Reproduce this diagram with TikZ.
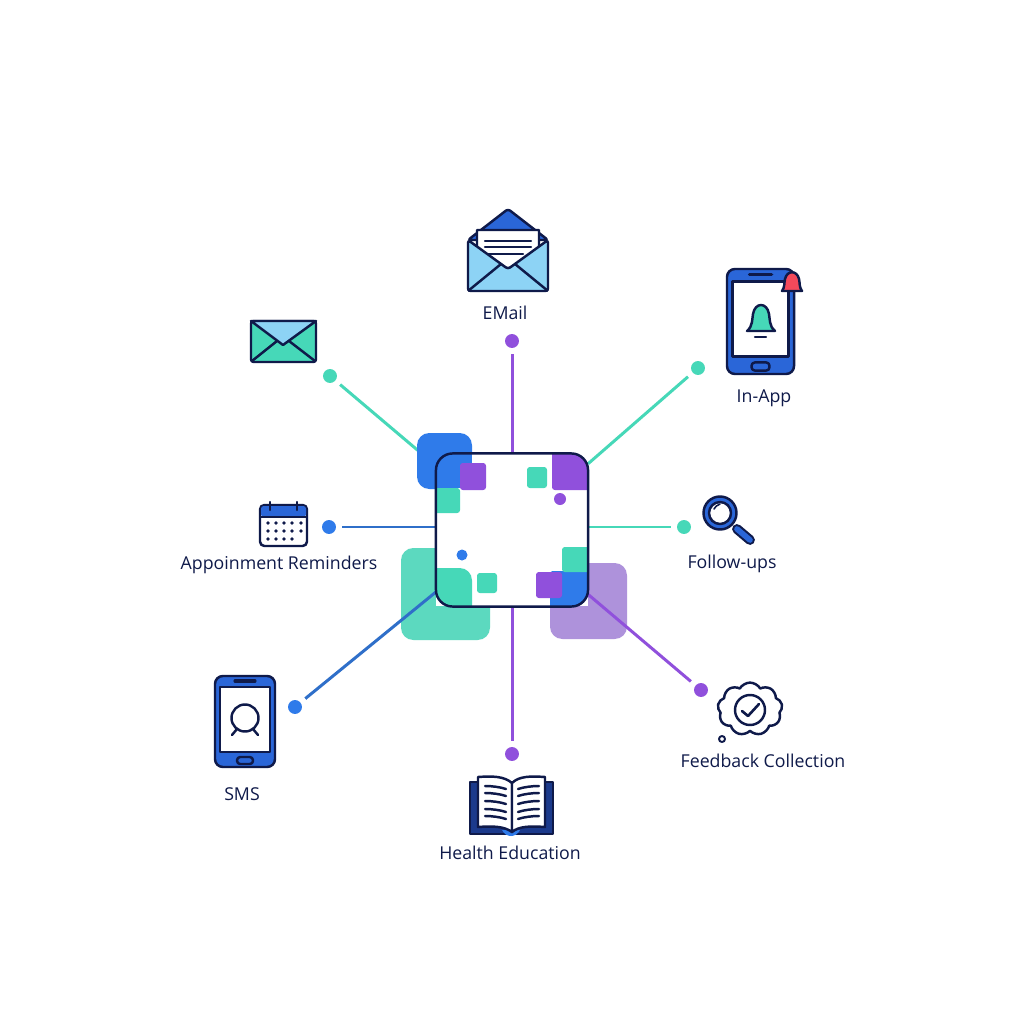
\documentclass[tikz,border=0pt]{standalone}
\usepackage{fontspec}
\setmainfont{Open Sans}
\usetikzlibrary{shapes.symbols}
\definecolor{channelInk}{HTML}{0F1A4A}
\definecolor{channelBlue}{HTML}{2F7BEA}
\definecolor{channelNavy}{HTML}{2F6FC9}
\definecolor{channelPhone}{HTML}{2A66D8}
\definecolor{channelCover}{HTML}{1B3A8C}
\definecolor{channelSky}{HTML}{8DD3F5}
\definecolor{channelTeal}{HTML}{46D8B8}
\definecolor{channelSoftTeal}{HTML}{5CD9BF}
\definecolor{channelPurple}{HTML}{9050DC}
\definecolor{channelSoftPurple}{HTML}{AE92DB}
\definecolor{channelRed}{HTML}{F4495B}
\tikzset{
    channel/dot/.style={
        circle, inner sep=0pt, minimum size=14*0.5669pt
    },
    channel/label/.style={
        font=\fontsize{10.1}{12}\selectfont, text=channelInk, inner sep=0pt
    },
    channel/link/.style={
        line width=1.7pt, shorten <=3.4pt
    },
    channel/tile/.style={rounded corners=1.6pt},
    channel/big tile/.style={rounded corners=7pt},
    channel/hub/.style={
        rectangle, fill=white, inner sep=0pt,
        minimum width=152*0.5669pt, minimum height=153*0.5669pt
    },
    channel/hub corners/.style={rounded corners=9.5pt},
    channel/outline/.style={
        draw=channelInk, line width=1.4pt, line join=round
    },
    channel/thin/.style={
        draw=channelInk, line width=1.4pt, line cap=round, line join=round
    }
}
% phone drawn in a 60 by 91 box
\newcommand{\phoneBody}{
    \filldraw[channel/outline, fill=channelPhone, rounded corners=4.5pt]
        (0,0) rectangle (60,91);
    \filldraw[channel/outline, fill=white] (5,11) rectangle (55,76);
    \draw[channel/thin, line width=1.8pt] (20,5) -- (40,5);
    \draw[channel/outline, rounded corners=1.8pt] (22,81) rectangle (38,88);
}
\begin{document}
\begin{tikzpicture}[x=0.02cm,y=-0.02cm]
    \useasboundingbox (0,0) rectangle (1024,1024);
    \fill[white] (0,0) rectangle (1024,1024);

    % soft tiles behind the hub
    \fill[channelSoftTeal, channel/big tile] (401,548) rectangle (490,640);
    \fill[channelSoftPurple, channel/big tile] (550,563) rectangle (627,639);

    \node[channel/hub] (hub) at (512,530) {};
    \node[channel/dot, fill=channelTeal] (reminderDot) at (330,376) {};
    \node[channel/dot, fill=channelPurple] (emailDot) at (512,341) {};
    \node[channel/dot, fill=channelTeal] (inappDot) at (698,368) {};
    \node[channel/dot, fill=channelBlue] (appointmentDot) at (329,527) {};
    \node[channel/dot, fill=channelTeal] (followDot) at (684,527) {};
    \node[channel/dot, fill=channelBlue] (smsDot) at (295,707) {};
    \node[channel/dot, fill=channelPurple] (healthDot) at (512,754) {};
    \node[channel/dot, fill=channelPurple] (feedbackDot) at (701,690) {};

    \draw[channel/link, draw=channelTeal] (reminderDot) -- (hub);
    \draw[channel/link, draw=channelPurple] (emailDot) -- (hub);
    \draw[channel/link, draw=channelTeal] (inappDot) -- (hub);
    \draw[channel/link, draw=channelNavy] (appointmentDot) -- (appointmentDot -| hub.west);
    \draw[channel/link, draw=channelTeal] (followDot) -- (followDot -| hub.east);
    \draw[channel/link, draw=channelNavy] (smsDot) -- (hub);
    \draw[channel/link, draw=channelPurple] (healthDot) -- (hub);
    \draw[channel/link, draw=channelPurple] (feedbackDot) -- (hub);

    % tiles of the hub
    \fill[channelBlue, channel/big tile] (417,433) rectangle (472,489);
    \begin{scope}
        \clip[channel/hub corners] (hub.south west) rectangle (hub.north east);
        \fill[white] (436,454) rectangle (588,606);
        \fill[channelBlue] (436,454) rectangle (472,488);
        \fill[channelTeal, channel/tile] (425,488) rectangle (460,513);
        \fill[channelTeal, channel/big tile] (425,568) rectangle (472,620);
        \fill[channelBlue, channel/tile] (550,571) rectangle (600,620);
        \fill[channelTeal, channel/tile] (562,547) rectangle (600,572);
        \fill[channelPurple, channel/tile] (552,444) rectangle (600,490);
    \end{scope}
    \fill[channelPurple, channel/tile] (460,463) rectangle (486,490);
    \fill[channelTeal, channel/tile] (527,467) rectangle (547,488);
    \fill[channelTeal, channel/tile] (477,573) rectangle (497,593);
    \fill[channelPurple, channel/tile] (536,572) rectangle (562,598);
    \fill[channelPurple] (560,499) circle (6);
    \fill[channelBlue] (462,555) circle (5.5);
    \draw[channel/outline, channel/hub corners]
        (hub.south west) rectangle (hub.north east);

    % open envelope
    \filldraw[channel/outline, fill=channelPhone, rounded corners=1.5pt]
        (468,240) -- (508,209) -- (548,240) -- cycle;
    \filldraw[channel/outline, fill=white]
        (477,230) -- (539,230) -- (539,255) -- (508,269) -- (477,255) -- cycle;
    \draw[channel/thin] (485,241) -- (531,241) (485,247) -- (531,247) (485,254) -- (523,254);
    \filldraw[channel/outline, fill=channelSky, rounded corners=1.5pt]
        (468,240) -- (508,269) -- (548,240) -- (548,291) -- (468,291) -- cycle;
    \draw[channel/outline] (468,291) -- (501,264) (548,291) -- (515,264);
    \node[channel/label] (emailLabel) at (505,313) {EMail};

    % closed envelope
    \filldraw[channel/outline, fill=channelTeal, rounded corners=1.5pt]
        (251,321) rectangle (316,362);
    \filldraw[channel/outline, fill=channelSky]
        (251,321) -- (283,345) -- (316,321) -- cycle;
    \draw[channel/outline] (252,361) -- (277,341) (315,361) -- (289,341);

    % phone with bell
    \begin{scope}[shift={(727,269)}, xscale=1.117, yscale=1.154]
        \phoneBody
    \end{scope}
    \filldraw[channel/thin, fill=channelTeal]
        (747,331) .. controls (753,326) and (752,319) .. (753,314)
        .. controls (755,302) and (767,302) .. (769,314)
        .. controls (770,319) and (769,326) .. (775,331) -- cycle;
    \draw[channel/thin] (755,337) -- (766,337);
    \filldraw[channel/thin, fill=channelRed]
        (782,291) .. controls (785,287) and (784,283) .. (785,279)
        .. controls (787,270) and (797,270) .. (799,279)
        .. controls (800,283) and (799,287) .. (802,291) -- cycle;
    \node[channel/label] (inappLabel) at (764,398) {In-App};

    % calendar
    \filldraw[channel/outline, fill=white, rounded corners=2.5pt]
        (260,505) rectangle (307,546);
    \fill[channelPhone, rounded corners=1.5pt] (261,506) rectangle (306,517);
    \draw[channel/outline] (260,517) -- (307,517);
    \draw[channel/thin] (270,502) -- (270,510) (297,502) -- (297,510);
    \fill[channelInk]
        (268,523) circle (1.8) (276,523) circle (1.8) (284,523) circle (1.8) (292,523) circle (1.8) (301,523) circle (1.8)
        (268,531) circle (1.8) (276,531) circle (1.8) (284,531) circle (1.8) (292,531) circle (1.8) (301,531) circle (1.8)
        (268,539) circle (1.8) (276,539) circle (1.8) (284,539) circle (1.8) (292,539) circle (1.8);
    \node[channel/label] (appointmentLabel) at (279,565) {Appoinment Reminders};

    % magnifier
    \draw[channelInk, line width=5.6pt, line cap=round] (737,529) -- (750,540);
    \draw[channelPhone, line width=3.2pt, line cap=round] (737,529) -- (750,540);
    \filldraw[channel/outline, fill=channelPhone, even odd rule]
        (720,513) circle (16.5) (720,513) circle (11);
    \draw[channel/thin, line width=0.9pt] (714,509) .. controls (715,507) and (717,505) .. (720,504);
    \node[channel/label] (followLabel) at (732,564) {Follow-ups};

    % phone with chat bubble
    \begin{scope}[shift={(215,676)}]
        \phoneBody
    \end{scope}
    \draw[channel/thin] (245,718) circle (13.5);
    \draw[channel/thin] (232,735) -- (237,729) (258,735) -- (253,729);
    \node[channel/label] (smsLabel) at (242,794) {SMS};

    % open book
    \filldraw[channel/outline, fill=channelCover] (470,782) rectangle (553,834);
    \fill[channelBlue] (502,830) .. controls (506,838) and (516,838) .. (520,830) -- cycle;
    \filldraw[channel/outline, fill=white]
        (478,777) .. controls (492,776) and (504,776) .. (512,783)
        -- (512,832) .. controls (504,826) and (492,826) .. (478,827) -- cycle;
    \filldraw[channel/outline, fill=white]
        (545,777) .. controls (531,776) and (519,776) .. (512,783)
        -- (512,832) .. controls (519,826) and (531,826) .. (545,827) -- cycle;
    \draw[channel/thin]
        (485,786) .. controls (492,786) and (500,787) .. (506,789)
        (485,793) .. controls (492,793) and (500,794) .. (506,796)
        (485,801) .. controls (492,801) and (500,802) .. (506,804)
        (485,809) .. controls (492,809) and (500,810) .. (506,812)
        (485,816) .. controls (492,816) and (500,817) .. (506,819)
        (539,786) .. controls (532,786) and (524,787) .. (518,789)
        (539,793) .. controls (532,793) and (524,794) .. (518,796)
        (539,801) .. controls (532,801) and (524,802) .. (518,804)
        (539,809) .. controls (532,809) and (524,810) .. (518,812)
        (539,816) .. controls (532,816) and (524,817) .. (518,819);
    \node[channel/label] (healthLabel) at (510,853) {Health Education};

    % thought cloud
    \node[cloud, cloud puffs=9, cloud puff arc=120, aspect=1.2, channel/thin,
        inner sep=0pt, minimum width=65*0.5669pt, minimum height=53*0.5669pt]
        (feedbackCloud) at (750,709) {};
    \draw[channel/thin, line width=1.1pt] (722,739) circle (3);
    \draw[channel/thin] (750,710) circle (15);
    \draw[channel/thin, line width=1.5pt] (742,711) -- (748,716) -- (759,704);
    \node[channel/label] (feedbackLabel) at (763,761) {Feedback Collection};
\end{tikzpicture}
\end{document}
